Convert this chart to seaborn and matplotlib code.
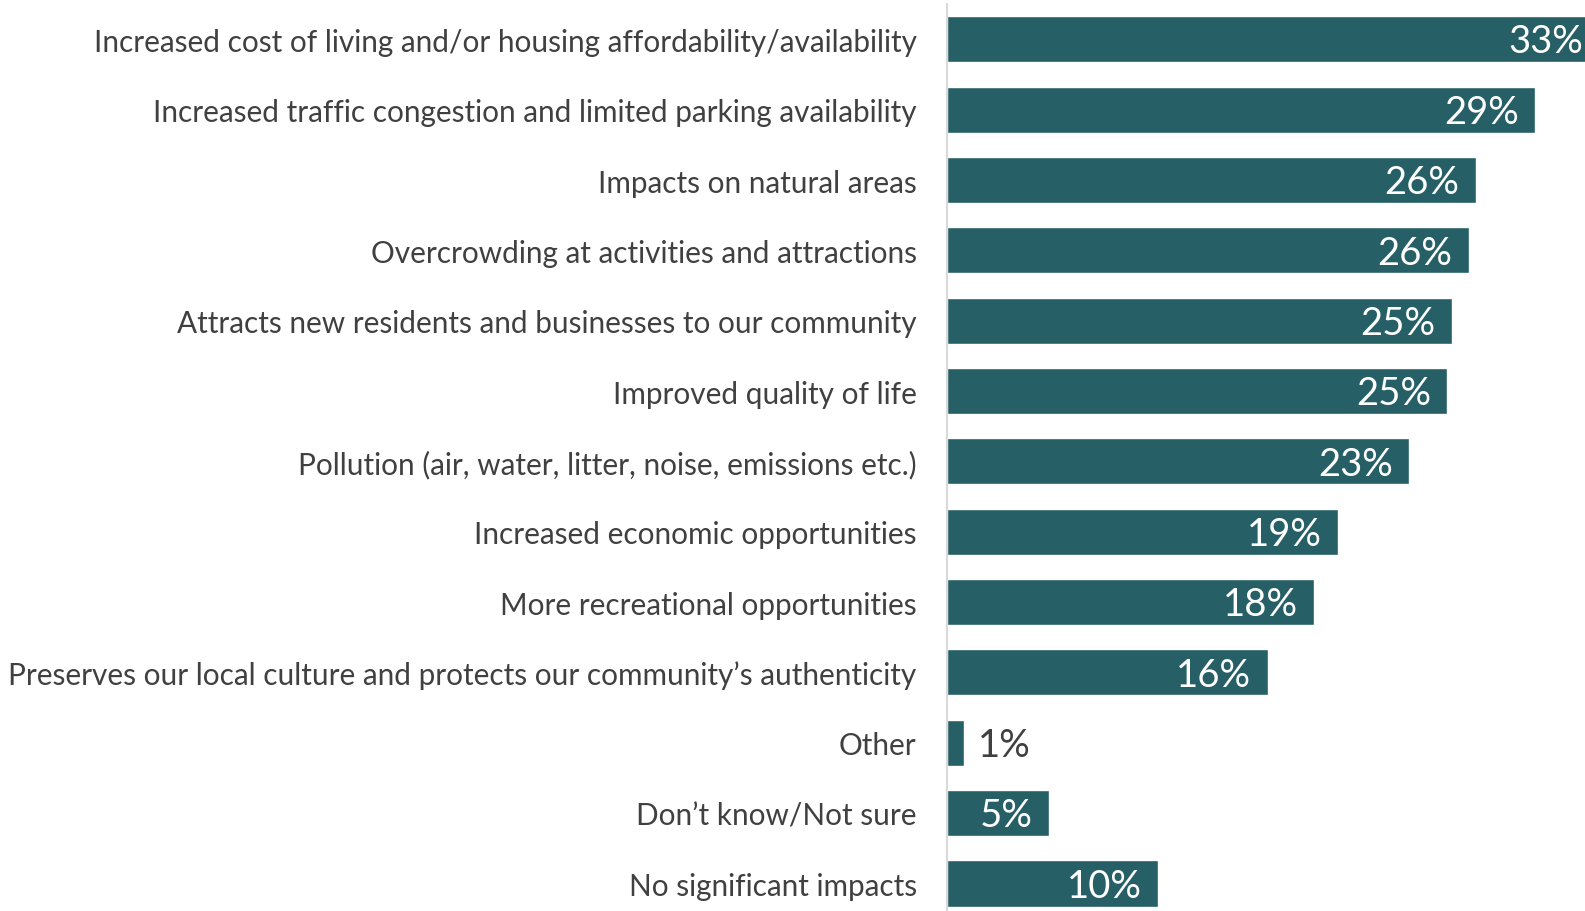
import matplotlib
matplotlib.use("Agg")
import matplotlib.pyplot as plt
import seaborn as sns
import pandas as pd

categories = [
    "Increased cost of living and/or housing affordability/availability",
    "Increased traffic congestion and limited parking availability",
    "Impacts on natural areas",
    "Overcrowding at activities and attractions",
    "Attracts new residents and businesses to our community",
    "Improved quality of life",
    "Pollution (air, water, litter, noise, emissions etc.)",
    "Increased economic opportunities",
    "More recreational opportunities",
    "Preserves our local culture and protects our community\u2019s authenticity",
    "Other",
    "Don\u2019t know/Not sure",
    "No significant impacts",
]
values = [33.0, 29.1, 26.15, 25.8, 24.95, 24.75, 22.85, 19.35, 18.15, 15.85, 0.85, 5.05, 10.45]
value_labels = ["33%", "29%", "26%", "26%", "25%", "25%", "23%", "19%", "18%", "16%", "1%", "5%", "10%"]

sns.set_theme(style="white")
plt.rcParams['font.family'] = ['Lato', 'DejaVu Sans']

df = pd.DataFrame({"category": categories, "value": values})

fig = plt.figure(figsize=(15.85, 9.12), dpi=100)
ax = fig.add_axes([947/1585, -0.0084, 1 - 947/1585, 1.0027])

bar_color = "#266066"
sns.barplot(data=df, x="value", y="category", color=bar_color, saturation=1,
            width=0.655, ax=ax, orient="h")

xmax = 31.55
ax.set_xlim(0, xmax)
ax.set_ylim(len(categories) - 0.5, -0.5)
ax.set_xlabel("")
ax.set_ylabel("")
ax.set_xticks([])
for s in ["top", "right", "bottom"]:
    ax.spines[s].set_visible(False)
ax.spines["left"].set_color("#d9d9d9")
ax.spines["left"].set_linewidth(1.5)
ax.tick_params(axis="y", length=0, pad=21.8, labelsize=21.4, labelcolor="#404040")

for i, (v, lab) in enumerate(zip(values, value_labels)):
    if v < 3:
        ax.text(v + 0.7, i + 0.03, lab, ha="left", va="center", fontsize=27.5,
                color="#404040", clip_on=False)
    else:
        ax.text(min(v - 0.8, xmax - 0.1), i + 0.03, lab, ha="right", va="center",
                fontsize=27.5, color="white", clip_on=False)

fig.savefig("out.png", dpi=100)
